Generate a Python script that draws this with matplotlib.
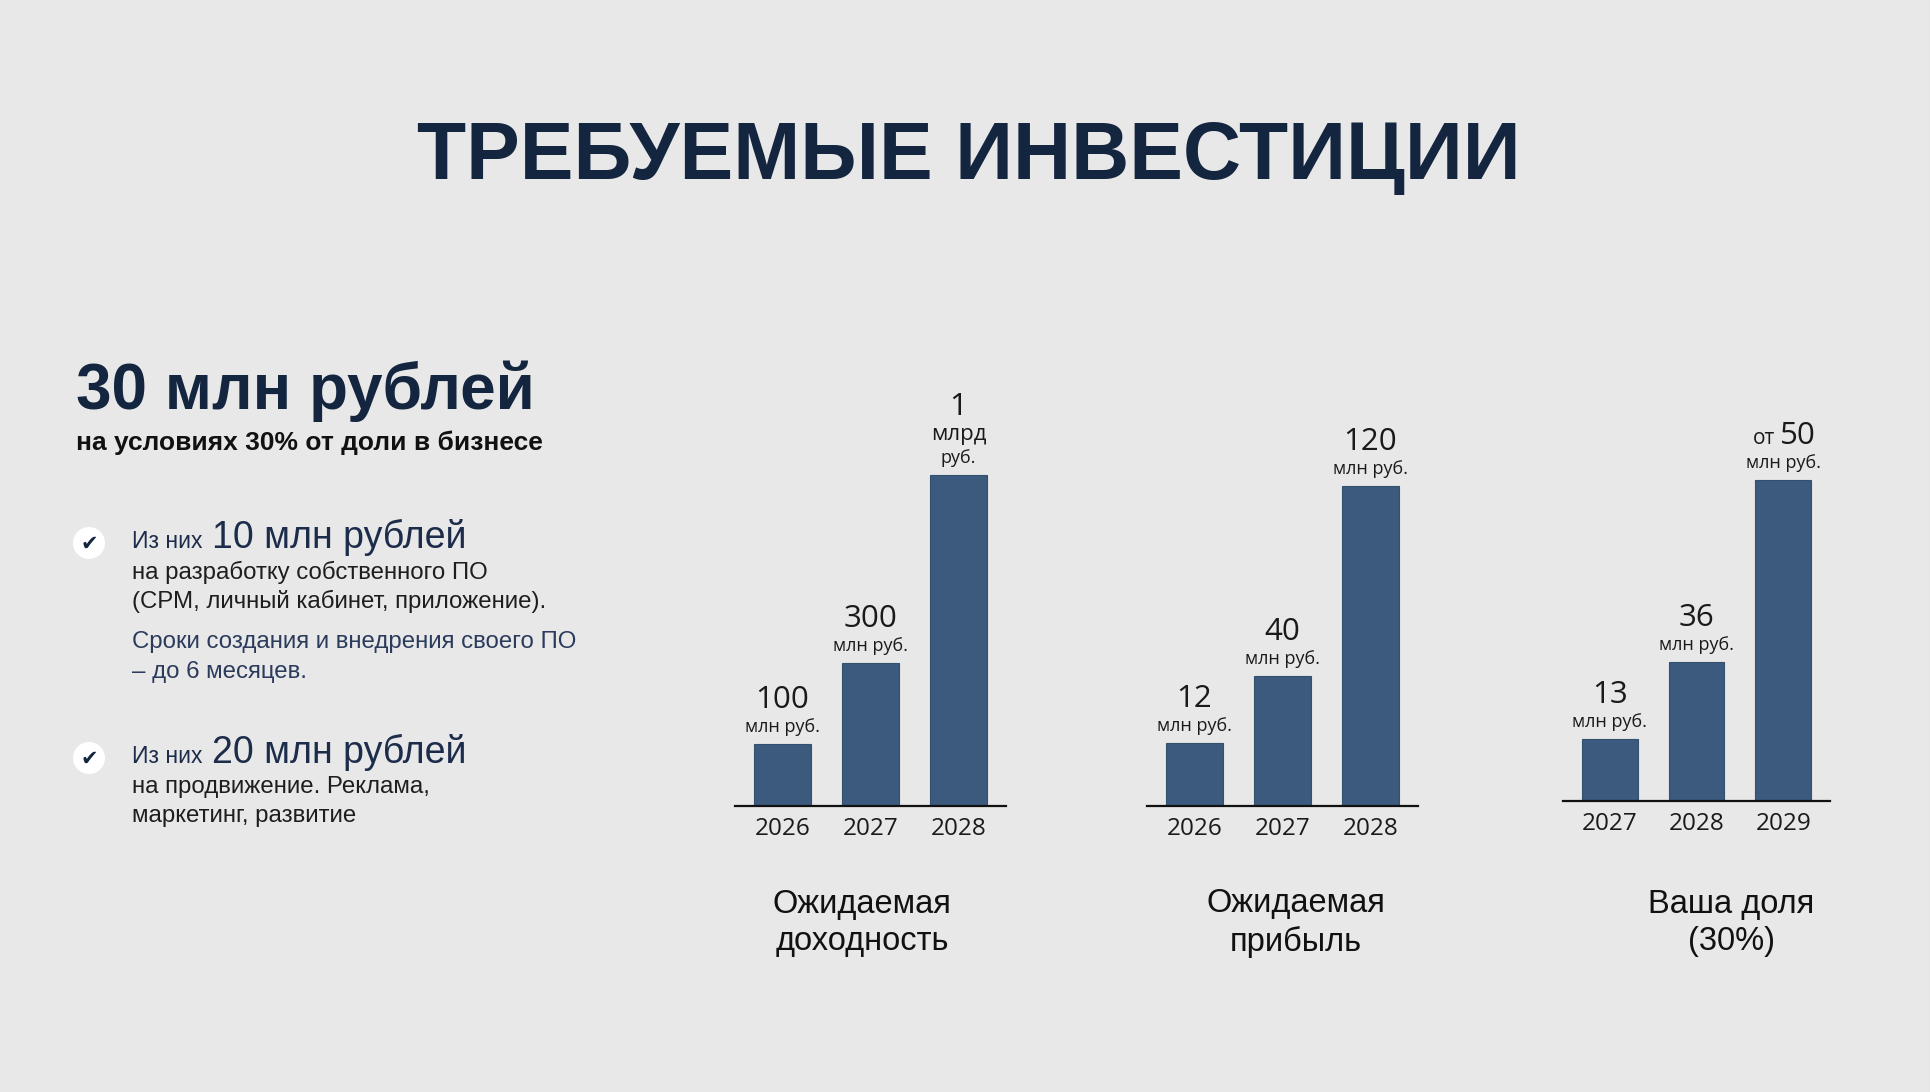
import matplotlib.pyplot as plt
from matplotlib.patches import Circle

# --- data ---
rev_years = ['2026', '2027', '2028']
rev_heights = [62, 143, 331]          # bar heights as drawn (relative units)
rev_numbers = ['100', '300', '1']
rev_units = ['млн руб.', 'млн руб.', 'млрд\nруб.']

profit_years = ['2026', '2027', '2028']
profit_heights = [63, 130, 320]
profit_numbers = ['12', '40', '120']
profit_units = ['млн руб.', 'млн руб.', 'млн руб.']

share_years = ['2027', '2028', '2029']
share_heights = [62, 139, 321]
share_numbers = ['13', '36', '50']
share_prefix = ['', '', 'от']
share_units = ['млн руб.', 'млн руб.', 'млн руб.']

chart_titles = ['Ожидаемая\nдоходность', 'Ожидаемая\nприбыль', 'Ваша доля\n(30%)']

W, H = 1930, 1092
BG = '#e8e8e8'
NAVY = '#14253f'
BAR = '#3c5a7e'
ARIAL = ['Liberation Sans', 'DejaVu Sans']
OPEN = ['Open Sans', 'DejaVu Sans']

fig = plt.figure(figsize=(W / 100, H / 100), dpi=100, facecolor=BG)
bg = fig.add_axes([0, 0, 1, 1])
bg.set_xlim(0, W)
bg.set_ylim(H, 0)
bg.axis('off')

# title
bg.text(969, 158, 'ТРЕБУЕМЫЕ ИНВЕСТИЦИИ', ha='center', va='center',
        fontsize=58, fontweight='bold', color=NAVY, family=ARIAL)

# left column
bg.text(76, 391, '30 млн рублей', ha='left', va='center', fontsize=46,
        fontweight='bold', color=NAVY, family=ARIAL)
bg.text(76, 443, 'на условиях 30% от доли в бизнесе', ha='left', va='center',
        fontsize=19, fontweight='bold', color='#111111', family=ARIAL)

for cy in (543, 758):
    bg.add_patch(Circle((89, cy), 16, facecolor='white', edgecolor='none'))
    bg.text(89, cy + 1, '✔', ha='center', va='center', fontsize=15,
            color=NAVY, family=['DejaVu Sans'])

TXT = '#1e1e1e'
SUB = '#1c2c4a'
bg.text(132, 548, 'Из них', ha='left', va='baseline', fontsize=16.5,
        color=SUB, family=ARIAL)
bg.text(212, 548, '10 млн рублей', ha='left', va='baseline', fontsize=27,
        color=SUB, family=ARIAL)
bg.text(132, 572, 'на разработку собственного ПО', ha='left', va='center',
        fontsize=17.3, color=TXT, family=ARIAL)
bg.text(132, 601, '(СРМ, личный кабинет, приложение).', ha='left', va='center',
        fontsize=17.3, color=TXT, family=ARIAL)
bg.text(132, 642, 'Сроки создания и внедрения своего ПО', ha='left', va='center',
        fontsize=17.3, color='#2b3b5c', family=ARIAL)
bg.text(132, 672, '– до 6 месяцев.', ha='left', va='center',
        fontsize=17.3, color='#2b3b5c', family=ARIAL)

bg.text(132, 763, 'Из них', ha='left', va='baseline', fontsize=16.5,
        color=SUB, family=ARIAL)
bg.text(212, 763, '20 млн рублей', ha='left', va='baseline', fontsize=27,
        color=SUB, family=ARIAL)
bg.text(132, 787, 'на продвижение. Реклама,', ha='left', va='center',
        fontsize=17.3, color=TXT, family=ARIAL)
bg.text(132, 816, 'маркетинг, развитие', ha='left', va='center',
        fontsize=17.3, color=TXT, family=ARIAL)


def bar_chart(x0, x1, base, years, heights, numbers, units, title, title_x, prefix=None):
    top = 360
    ax = fig.add_axes([x0 / W, 1 - base / H, (x1 - x0) / W, (base - top) / H])
    ax.set_facecolor('none')
    ax.set_xlim(-0.54, 2.54)
    ax.set_ylim(0, base - top)
    bars = ax.bar(range(3), heights, width=0.64, color=BAR, edgecolor='#33506f',
                  linewidth=0.8, zorder=2)
    for s in ('top', 'left', 'right'):
        ax.spines[s].set_visible(False)
    ax.spines['bottom'].set_color('#111111')
    ax.spines['bottom'].set_linewidth(1.6)
    ax.set_yticks([])
    ax.set_xticks(range(3))
    ax.set_xticklabels(years, fontsize=17.5, color='#1a1a1a', family=OPEN)
    ax.tick_params(axis='x', length=0, pad=8)
    for i, b in enumerate(bars):
        xc = b.get_x() + b.get_width() / 2
        h = b.get_height()
        lines = units[i].split('\n')
        off = 12
        for j, ln in enumerate(reversed(lines)):
            big = len(lines) > 1 and j == len(lines) - 1
            ax.annotate(ln, (xc, h), xytext=(0, off), textcoords='offset points',
                        ha='center', va='center', fontsize=16 if big else 13,
                        color='#1a1a1a', family=OPEN)
            off += 17
        off += 3
        pre = prefix[i] if prefix else ''
        if pre:
            ax.annotate(pre, (xc, h), xytext=(-6, off - 2), textcoords='offset points',
                        ha='right', va='center', fontsize=15, color='#1a1a1a', family=OPEN)
            ax.annotate(numbers[i], (xc, h), xytext=(-2, off), textcoords='offset points',
                        ha='left', va='center', fontsize=22.5, color='#1a1a1a', family=OPEN)
        else:
            ax.annotate(numbers[i], (xc, h), xytext=(0, off), textcoords='offset points',
                        ha='center', va='center', fontsize=22.5, color='#1a1a1a', family=OPEN)
    bg.text(title_x, 923, title, ha='center', va='center', fontsize=23.5,
            color='#111111', family=ARIAL, linespacing=1.25)


bar_chart(735, 1006, 806, rev_years, rev_heights, rev_numbers, rev_units,
          chart_titles[0], 862)
bar_chart(1147, 1418, 806, profit_years, profit_heights, profit_numbers, profit_units,
          chart_titles[1], 1296)
bar_chart(1563, 1830, 801, share_years, share_heights, share_numbers, share_units,
          chart_titles[2], 1731, prefix=share_prefix)

fig.savefig('out.png', dpi=100, facecolor=BG)
